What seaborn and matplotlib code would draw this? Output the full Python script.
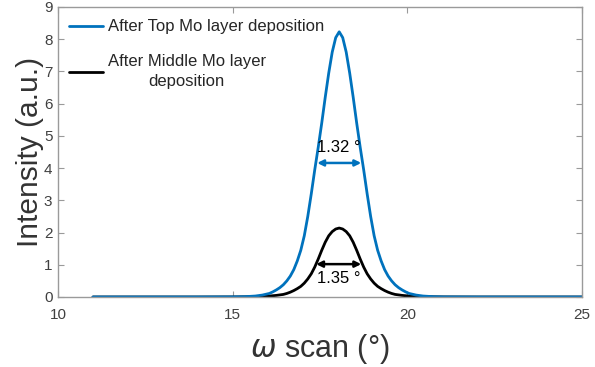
import numpy as np
import pandas as pd
import matplotlib
matplotlib.use("Agg")
import matplotlib.pyplot as plt
import seaborn as sns
from matplotlib.lines import Line2D

# ---- data ----
top_x = [11, 12, 13, 14, 15, 15.35, 15.65, 15.85, 16.05, 16.15, 16.25, 16.35, 16.45,
         16.55, 16.65, 16.75, 16.85, 16.95, 17.05, 17.15, 17.25, 17.35, 17.45, 17.55,
         17.65, 17.75, 17.85, 17.95, 18.05, 18.15, 18.25, 18.35, 18.45, 18.55, 18.65,
         18.75, 18.85, 18.95, 19.05, 19.15, 19.25, 19.35, 19.45, 19.55, 19.65, 19.75,
         19.85, 19.95, 20.05, 20.25, 20.45, 20.75, 21.05, 22, 23, 24, 25]
top_y = [0, 0, 0, 0, 0.003, 0.01, 0.03, 0.06, 0.11, 0.16, 0.22, 0.29, 0.38,
         0.5, 0.65, 0.85, 1.12, 1.45, 1.9, 2.5, 3.2, 3.95, 4.65, 5.4,
         6.2, 6.95, 7.6, 8.05, 8.23, 8.05, 7.6, 6.95, 6.2, 5.4, 4.65,
         3.95, 3.2, 2.5, 1.9, 1.45, 1.12, 0.85, 0.65, 0.5, 0.38, 0.29,
         0.22, 0.16, 0.11, 0.06, 0.03, 0.01, 0.003, 0, 0, 0, 0]

mid_x = [11, 12, 13, 14, 15, 15.35, 15.75, 16.05, 16.25, 16.45, 16.55, 16.65, 16.75,
         16.85, 16.95, 17.05, 17.15, 17.25, 17.35, 17.45, 17.55, 17.65, 17.75, 17.85,
         17.95, 18.05, 18.15, 18.25, 18.35, 18.45, 18.55, 18.65, 18.75, 18.85, 18.95,
         19.05, 19.15, 19.25, 19.35, 19.45, 19.55, 19.65, 19.85, 20.05, 20.35, 20.75,
         21.05, 22, 23, 24, 25]
mid_y = [0, 0, 0, 0, 0.002, 0.005, 0.015, 0.03, 0.05, 0.08, 0.11, 0.15, 0.2,
         0.26, 0.33, 0.43, 0.56, 0.72, 0.93, 1.18, 1.45, 1.7, 1.9, 2.03,
         2.11, 2.14, 2.11, 2.03, 1.9, 1.7, 1.45, 1.18, 0.93, 0.72, 0.56,
         0.43, 0.33, 0.26, 0.2, 0.15, 0.11, 0.08, 0.05, 0.03, 0.015, 0.005,
         0.002, 0, 0, 0, 0]

series_labels = ["After Top Mo layer deposition", "After Middle Mo layer\ndeposition"]
series_colors = ["#0072BD", "#000000"]

fwhm_labels = ["1.32 \u00b0", "1.35 \u00b0"]
fwhm_left = [17.42, 17.39]
fwhm_right = [18.68, 18.68]
fwhm_level = [4.16, 1.02]
fwhm_text_y = [4.63, 0.56]

x_ticks = [10, 15, 20, 25]
y_ticks = list(range(0, 10))

# ---- build table ----
df = pd.concat([
    pd.DataFrame({"omega": mid_x, "I": mid_y, "series": series_labels[1]}),
    pd.DataFrame({"omega": top_x, "I": top_y, "series": series_labels[0]}),
], ignore_index=True)

sns.set_style("ticks")
plt.rcParams["font.family"] = ["Liberation Sans", "DejaVu Sans"]
plt.rcParams["mathtext.fontset"] = "dejavusans"

fig = plt.figure(figsize=(5.95, 3.67), dpi=100)
ax = fig.add_axes([58 / 595, 1 - 297 / 367, (582 - 58) / 595, (297 - 7) / 367])

palette = {series_labels[0]: series_colors[0], series_labels[1]: series_colors[1]}
sns.lineplot(data=df, x="omega", y="I", hue="series", palette=palette,
             sort=False, estimator=None, lw=2.0, ax=ax, legend=False)

ax.set_xlim(10, 25)
ax.set_ylim(0, 9)
ax.set_xticks(x_ticks)
ax.set_yticks(y_ticks)

spine_c = "#9a9a9a"
for s in ax.spines.values():
    s.set_visible(True)
    s.set_color(spine_c)
    s.set_linewidth(1.0)
ax.tick_params(direction="in", length=4, width=0.8, color=spine_c,
               top=True, right=True, labelsize=11, labelcolor="#404040")
ax.tick_params(axis="x", pad=8)
ax.tick_params(axis="y", pad=4)

ax.set_xlabel(r"$\omega$ scan (°)", fontsize=22, color="#333333", labelpad=7)
ax.set_ylabel("Intensity (a.u.)", fontsize=21.5, color="#333333", labelpad=0)

# legend
handles = [Line2D([], [], color=series_colors[0], lw=2.0),
           Line2D([], [], color=series_colors[1], lw=2.0)]
leg = ax.legend(handles, series_labels, loc="upper left", bbox_to_anchor=(0.009, 0.98),
                frameon=False, fontsize=12, handlelength=2.0, handletextpad=0.3,
                labelspacing=1.2, borderaxespad=0.0, borderpad=0.4)
for t in leg.get_texts():
    t.set_multialignment("center")
    t.set_linespacing(1.4)

# FWHM arrows
for i in range(2):
    ax.annotate("", xy=(fwhm_left[i], fwhm_level[i]), xytext=(fwhm_right[i], fwhm_level[i]),
                arrowprops=dict(arrowstyle="<|-|>", color=series_colors[i], lw=1.8,
                                mutation_scale=9, shrinkA=0, shrinkB=0))
    ax.text((fwhm_left[i] + fwhm_right[i]) / 2, fwhm_text_y[i], fwhm_labels[i],
            ha="center", va="center", fontsize=12, color="black")

fig.savefig("out.png", dpi=100)
